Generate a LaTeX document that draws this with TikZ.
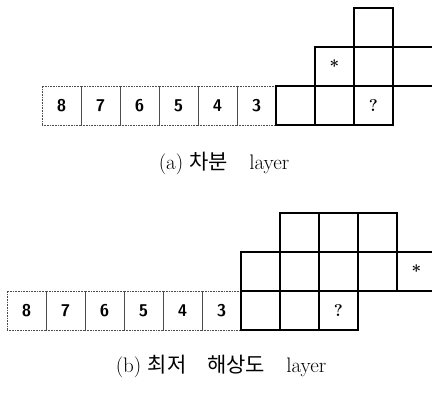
\documentclass[tikz,border=0pt]{standalone}
\usepackage{fontspec}
\newfontfamily\kor{Noto Sans CJK KR}
\usetikzlibrary{positioning}
\tikzset{
  cell/.style={draw, line width=1.1pt, minimum size=39pt, inner sep=0pt, outer sep=0pt,
    font=\bfseries\fontsize{17}{17}\selectfont},
  dotcell/.style={draw=black!70, densely dotted, line width=0.6pt, minimum size=39pt, inner sep=0pt, outer sep=0pt,
    text=black, font=\sffamily\bfseries\fontsize{17}{17}\selectfont},
  opencell/.style={cell, minimum width=44pt},
  capt/.style={font=\fontsize{21}{24}\selectfont}
}

\begin{document}
\begin{tikzpicture}[x=1pt,y=-1pt]
\useasboundingbox (0,0) rectangle (432,395);
% (a) difference layer
\foreach \n [count=\i from 0] in {8,7,6,5,4,3}
  \node[dotcell] (a\n) at ({61.5+39*\i},105.5) {\n};
\node[cell, right=0pt of a3] (ab1) {};
\node[cell, right=0pt of ab1] (ab2) {};
\node[cell, right=0pt of ab2] (ab3) {?};
\node[cell, above=0pt of ab2] (am1) {*};
\node[cell, above=0pt of ab3] (am2) {};
\node[opencell, right=0pt of am2] (am3) {};
\node[cell, above=0pt of am2] (at1) {};
\node[capt] (capa) at (224,163) {(a) {\kor 차분}\quad layer};
% (b) lowest resolution layer
\foreach \n [count=\i from 0] in {8,7,6,5,4,3}
  \node[dotcell] (b\n) at ({26.5+39*\i},310.5) {\n};
\node[cell, right=0pt of b3] (bb1) {};
\node[cell, right=0pt of bb1] (bb2) {};
\node[cell, right=0pt of bb2] (bb3) {?};
\node[cell, above=0pt of bb1] (bm1) {};
\node[cell, above=0pt of bb2] (bm2) {};
\node[cell, above=0pt of bb3] (bm3) {};
\node[cell, right=0pt of bm3] (bm4) {};
\node[cell, right=0pt of bm4] (bm5) {*};
\node[cell, above=0pt of bm2] (bt1) {};
\node[cell, above=0pt of bm3] (bt2) {};
\node[cell, above=0pt of bm4] (bt3) {};
\node[capt] (capb) at (221,366) {(b) {\kor 최저}\quad{\kor 해상도}\quad layer};
\end{tikzpicture}
\end{document}
